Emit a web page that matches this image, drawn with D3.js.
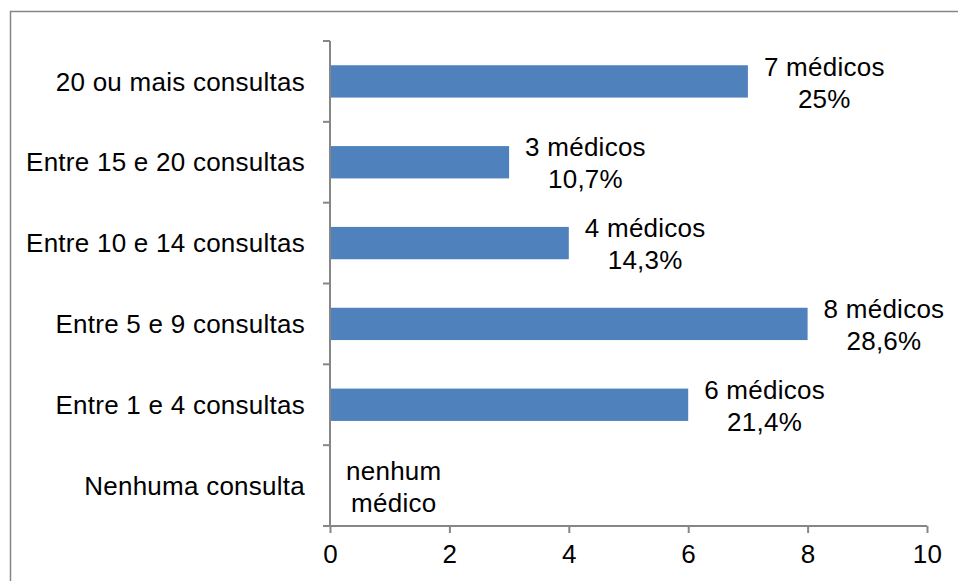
<!DOCTYPE html>
<html>
<head>
<meta charset="utf-8">
<script src="https://cdn.jsdelivr.net/npm/d3@7"></script>
<style>
  html, body { margin: 0; padding: 0; background: #fff; }
  svg { display: block; font-family: "Liberation Sans", Arial, sans-serif; letter-spacing: 0.25px; }
</style>
</head>
<body>
<svg id="chart" width="958" height="581"></svg>
<script>
// Number of doctors per consultation bracket
const categories = [
  "20 ou mais consultas",
  "Entre 15 e 20 consultas",
  "Entre 10 e 14 consultas",
  "Entre 5 e 9 consultas",
  "Entre 1 e 4 consultas",
  "Nenhuma consulta"
];
const doctors = [7, 3, 4, 8, 6, 0];
const percents = ["25%", "10,7%", "14,3%", "28,6%", "21,4%", ""];
const xTicks = [0, 2, 4, 6, 8, 10];

const svg = d3.select("#chart");
const axisColor = "#868686";
const barColor = "#4f81bd";
const fontSize = 26;

// outer frame
svg.append("rect")
  .attr("x", 10.5).attr("y", 11.5)
  .attr("width", 960).attr("height", 600)
  .attr("fill", "#fff")
  .attr("stroke", axisColor).attr("stroke-width", 1.5);

const plot = { left: 330, right: 927, top: 41, bottom: 526 };

const x = d3.scaleLinear().domain([0, 10]).range([plot.left, plot.right]);
const y = d3.scaleBand().domain(categories)
  .range([plot.top, plot.bottom])
  .paddingInner(0.6).paddingOuter(0.3);

// bars
svg.append("g").selectAll("rect")
  .data(categories)
  .join("rect")
  .attr("x", x(0))
  .attr("y", d => y(d))
  .attr("width", (d, i) => x(doctors[i]) - x(0))
  .attr("height", y.bandwidth())
  .attr("fill", barColor);

// y axis: ticks at band boundaries
const yAxisG = svg.append("g");
yAxisG.append("line")
  .attr("x1", plot.left).attr("x2", plot.left)
  .attr("y1", plot.top).attr("y2", plot.bottom)
  .attr("stroke", axisColor).attr("stroke-width", 2);
const step = (plot.bottom - plot.top) / categories.length;
yAxisG.selectAll("line.tick")
  .data(d3.range(categories.length + 1))
  .join("line")
  .attr("class", "tick")
  .attr("x1", plot.left - 7).attr("x2", plot.left)
  .attr("y1", i => plot.top + i * step)
  .attr("y2", i => plot.top + i * step)
  .attr("stroke", axisColor).attr("stroke-width", 2);

yAxisG.selectAll("text")
  .data(categories)
  .join("text")
  .attr("x", 305)
  .attr("y", d => y(d) + y.bandwidth() / 2)
  .attr("dy", "0.35em")
  .attr("text-anchor", "end")
  .attr("font-size", fontSize)
  .attr("fill", "#000")
  .text(d => d);

// x axis
const xAxis = d3.axisBottom(x).tickValues(xTicks).tickSize(7).tickPadding(12)
  .tickFormat(d3.format("d"));
const xAxisG = svg.append("g")
  .attr("transform", `translate(0,${plot.bottom})`)
  .call(xAxis);
xAxisG.select(".domain").attr("stroke", axisColor).attr("stroke-width", 2)
  .attr("d", `M${plot.left},0H${plot.right}`);
xAxisG.selectAll(".tick line").attr("stroke", axisColor).attr("stroke-width", 2);
xAxisG.selectAll(".tick text")
  .attr("font-size", fontSize)
  .attr("font-family", "Liberation Sans, Arial, sans-serif")
  .attr("fill", "#000");

// value labels: two centred lines placed right of each bar end
const labels = svg.append("g");
categories.forEach((c, i) => {
  const lines = doctors[i] > 0
    ? [`${doctors[i]} médicos`, percents[i]]
    : ["nenhum", "médico"];
  const cy = y(c) + y.bandwidth() / 2;
  const g = labels.append("g");
  const texts = g.selectAll("text")
    .data(lines)
    .join("text")
    .attr("y", (d, k) => cy + (k === 0 ? -15 : 17))
    .attr("dy", "0.35em")
    .attr("text-anchor", "middle")
    .attr("font-size", fontSize)
    .attr("fill", "#000")
    .text(d => d);
  let w = 0;
  texts.each(function () { w = Math.max(w, this.getComputedTextLength()); });
  texts.attr("x", x(doctors[i]) + 16 + w / 2);
});
</script>
</body>
</html>
